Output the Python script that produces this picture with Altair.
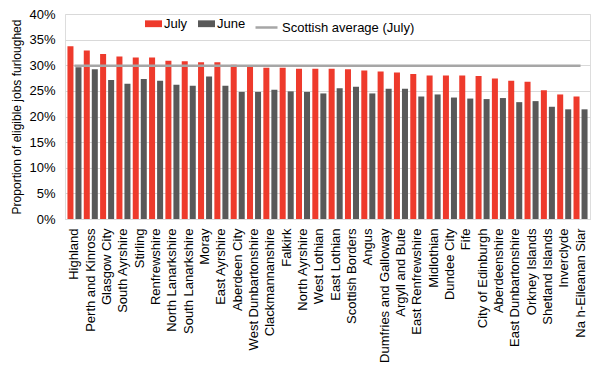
import altair as alt
import pandas as pd

regions = ["Highland", "Perth and Kinross", "Glasgow City", "South Ayrshire", "Stirling",
           "Renfrewshire", "North Lanarkshire", "South Lanarkshire", "Moray", "East Ayrshire",
           "Aberdeen City", "West Dunbartonshire", "Clackmannanshire", "Falkirk", "North Ayrshire",
           "West Lothian", "East Lothian", "Scottish Borders", "Angus", "Dumfries and Galloway",
           "Argyll and Bute", "East Renfrewshire", "Midlothian", "Dundee City", "Fife",
           "City of Edinburgh", "Aberdeenshire", "East Dunbartonshire", "Orkney Islands",
           "Shetland Islands", "Inverclyde", "Na h-Eileanan Siar"]
july = [33.7, 32.9, 32.2, 31.7, 31.5, 31.5, 30.9, 30.8, 30.6, 30.6,
        30.1, 29.7, 29.5, 29.5, 29.3, 29.3, 29.3, 29.2, 29.0, 28.8,
        28.6, 28.3, 28.0, 28.0, 28.0, 27.9, 27.4, 27.0, 26.8, 25.1, 24.3, 23.9]
june = [29.6, 29.2, 27.1, 26.4, 27.3, 27.0, 26.2, 26.0, 27.8, 26.0,
        24.8, 24.8, 25.2, 24.9, 24.8, 24.5, 25.5, 25.8, 24.5, 25.4,
        25.4, 23.9, 24.3, 23.7, 23.5, 23.4, 23.6, 22.8, 23.0, 21.9, 21.4, 21.4]
scottish_average_july = 29.9
series = ["July", "June"]
avg_label = "Scottish average (July)"
y_ticks = [0, 0.05, 0.1, 0.15, 0.2, 0.25, 0.3, 0.35, 0.4]

rows = []
for r, jl, jn in zip(regions, july, june):
    rows.append({"region": r, "month": "July", "value": jl / 100})
    rows.append({"region": r, "month": "June", "value": jn / 100})
bars_df = pd.DataFrame(rows)
avg_df = pd.DataFrame({"region": regions,
                       "avg": [scottish_average_july / 100] * len(regions),
                       "label": [avg_label] * len(regions)})

x_axis = alt.Axis(labelAngle=-90, labelFontSize=13, labelPadding=9, ticks=False,
                  domainColor="#d9d9d9", labelColor="#000000", labelLimit=300)
x_scale = alt.Scale(paddingInner=0.14, paddingOuter=0.15)
y_axis = alt.Axis(format=".0%", values=y_ticks, labelOverlap=False,
                  labelFontSize=13, labelPadding=10, ticks=False, domain=False,
                  gridColor="#d9d9d9", labelColor="#000000", titleFontSize=12,
                  titleFontWeight="normal", titleColor="#000000", titlePadding=5)
y_scale = alt.Scale(domain=[0, 0.4])
y_title = "Proportion of eligible jobs furloughed"

bars = alt.Chart(bars_df).mark_bar().encode(
    x=alt.X("region:N", sort=regions, title=None, scale=x_scale, axis=x_axis),
    xOffset=alt.XOffset("month:N", sort=series,
                        scale=alt.Scale(domain=series, paddingInner=0.25, paddingOuter=0)),
    y=alt.Y("value:Q", scale=y_scale, title=y_title, axis=y_axis),
    color=alt.Color("month:N", scale=alt.Scale(domain=series, range=["#EE3A2C", "#595959"]),
                    legend=alt.Legend(title=None, orient="none", legendX=80, legendY=1,
                                      direction="horizontal", labelFontSize=13,
                                      labelColor="#000000", labelOffset=2, columnPadding=10,
                                      symbolType="M-1,-0.4H1V0.4H-1Z", symbolSize=289,
                                      symbolStrokeWidth=0)),
)

avg_line = alt.Chart(avg_df).mark_line(strokeWidth=2.5).encode(
    x=alt.X("region:N", sort=regions, title=None, scale=x_scale, axis=x_axis),
    y=alt.Y("avg:Q", scale=y_scale, title=y_title, axis=y_axis),
    stroke=alt.Stroke("label:N", scale=alt.Scale(domain=[avg_label], range=["#A6A6A6"]),
                      legend=alt.Legend(title=None, orient="none", legendX=189, legendY=1,
                                        labelFontSize=13, labelColor="#000000", labelOffset=3,
                                        symbolType="stroke", symbolSize=484,
                                        symbolStrokeWidth=2.5)),
)

chart = alt.layer(bars, avg_line).properties(
    width=525, height=205,
    padding={"left": 57, "top": 6, "right": 2, "bottom": 164},
    autosize=alt.AutoSizeParams(type="none"),
).configure_view(stroke=None).configure(font="Liberation Sans")

chart.save("out.html", embed_options={"renderer": "svg", "actions": False})
